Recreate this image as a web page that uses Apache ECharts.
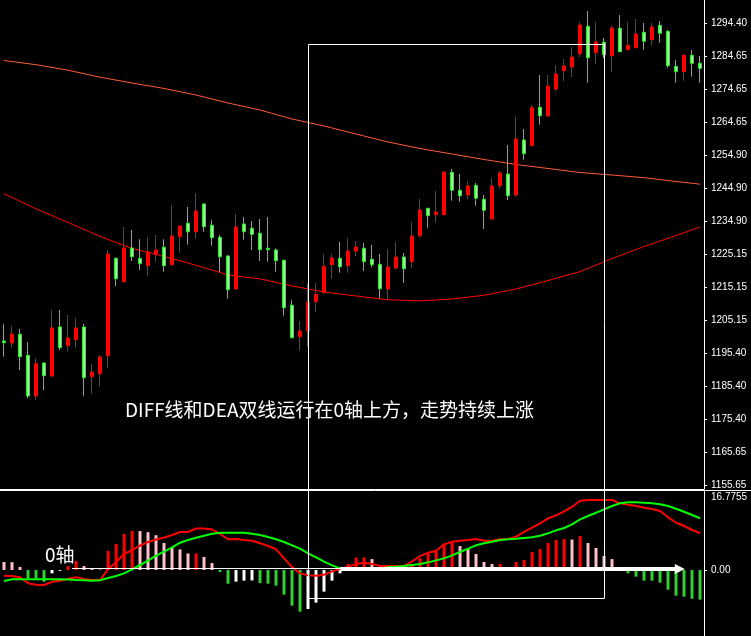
<!DOCTYPE html>
<html><head><meta charset="utf-8">
<script src="https://cdn.jsdelivr.net/npm/echarts@6/dist/echarts.min.js"></script>
<style>html,body{margin:0;padding:0;background:#000;}#c{width:751px;height:636px;}</style>
</head><body><div id="c"></div>
<script>
// ---- price data (one entry per bar) ----
const opens  = [1198.99,1198.39,1201.00,1194.69,1182.46,1192.38,1188.47,1203.20,1197.58,1199.38,1203.20,1188.26,1189.16,1194.57,1223.84,1216.81,1226.94,1223.84,1221.62,1224.92,1227.15,1221.92,1230.33,1234.36,1231.83,1240.16,1233.76,1230.15,1224.53,1214.62,1234.15,1232.86,1231.35,1226.85,1226.33,1223.24,1209.72,1200.28,1201.99,1210.80,1213.62,1221.92,1223.84,1221.62,1226.03,1226.85,1223.54,1222.04,1214.62,1220.93,1224.23,1222.82,1230.63,1238.87,1236.94,1236.94,1249.68,1244.28,1242.86,1245.78,1241.57,1235.65,1245.66,1249.17,1242.86,1259.39,1257.68,1269.22,1266.60,1274.72,1280.21,1281.33,1285.32,1293.56,1285.62,1288.75,1284.72,1292.96,1286.53,1287.13,1291.75,1289.53,1293.86,1292.05,1281.54,1279.91,1284.84,1282.44];
const highs  = [1204.10,1203.50,1202.60,1198.60,1193.79,1192.60,1208.30,1208.30,1206.80,1205.90,1204.10,1192.08,1194.78,1226.33,1224.10,1233.25,1232.34,1229.55,1230.24,1230.84,1229.55,1239.86,1233.60,1239.26,1243.46,1240.30,1235.35,1230.84,1224.83,1237.24,1236.25,1235.05,1235.65,1236.25,1226.85,1223.40,1211.31,1205.00,1216.33,1216.33,1225.13,1225.13,1228.74,1229.94,1229.04,1228.44,1227.84,1225.13,1226.64,1228.74,1225.43,1234.75,1241.66,1239.00,1244.06,1249.90,1250.68,1249.17,1247.07,1246.47,1242.86,1247.97,1250.07,1257.89,1266.39,1262.70,1269.91,1278.92,1278.92,1281.93,1283.73,1287.34,1294.85,1298.15,1294.85,1290.04,1293.65,1296.95,1294.85,1295.75,1294.55,1294.55,1295.15,1292.44,1283.43,1285.23,1286.43,1284.63];
const lows   = [1194.27,1196.98,1190.27,1181.77,1181.26,1184.26,1188.17,1196.28,1195.77,1196.98,1182.46,1183.15,1185.26,1190.97,1215.52,1216.51,1223.03,1220.32,1218.61,1222.82,1219.81,1221.62,1225.52,1227.93,1229.73,1231.83,1227.63,1219.72,1211.70,1214.41,1229.43,1226.33,1223.03,1222.82,1219.81,1206.59,1199.80,1196.07,1197.28,1207.79,1213.02,1217.62,1219.51,1219.51,1224.53,1220.02,1221.14,1211.70,1211.31,1220.42,1216.42,1220.93,1230.03,1233.04,1234.54,1236.80,1241.15,1240.85,1241.66,1239.65,1232.65,1235.44,1244.76,1241.36,1242.35,1253.47,1257.60,1263.99,1266.39,1274.02,1277.12,1278.32,1284.33,1276.61,1282.32,1283.94,1279.91,1285.80,1286.40,1287.00,1286.53,1287.73,1288.63,1281.12,1276.61,1277.21,1278.41,1276.61];
const closes = [1198.48,1201.09,1194.27,1182.46,1192.17,1188.56,1202.90,1196.98,1199.89,1202.90,1187.96,1189.67,1194.18,1225.13,1217.71,1226.94,1224.32,1222.22,1225.73,1226.33,1221.62,1230.54,1233.55,1231.83,1238.05,1233.34,1230.03,1224.32,1214.41,1233.25,1231.83,1231.05,1226.43,1226.43,1223.12,1209.00,1199.98,1201.99,1210.71,1213.02,1221.44,1223.93,1221.32,1226.03,1227.24,1222.82,1221.92,1214.71,1221.23,1224.23,1220.72,1230.54,1238.35,1236.64,1237.75,1249.77,1244.28,1242.65,1245.57,1241.87,1238.27,1245.57,1249.47,1242.65,1259.69,1255.27,1269.10,1266.69,1275.62,1279.22,1281.63,1284.33,1293.95,1284.12,1288.84,1285.02,1293.05,1285.92,1287.85,1291.24,1289.05,1293.35,1291.45,1281.72,1279.91,1284.84,1282.44,1280.94];

// moving averages read at every 4th bar: [barIndex, value]
const maSlow = [[0,1283.28],[4,1282.02],[8,1280.36],[12,1278.26],[16,1276.52],[20,1274.87],[24,1272.91],[28,1270.51],[32,1268.40],[36,1265.70],[40,1263.60],[44,1261.19],[48,1258.79],[52,1256.84],[56,1255.18],[60,1253.53],[64,1252.03],[68,1250.83],[72,1249.62],[76,1248.87],[80,1248.06],[84,1246.92],[87,1246.11]];
const maFast = [[0,1243.22],[4,1238.66],[8,1234.60],[12,1230.39],[16,1226.79],[20,1224.38],[24,1221.74],[28,1218.82],[32,1217.65],[36,1215.52],[40,1213.71],[44,1212.51],[48,1211.37],[52,1211.04],[56,1211.61],[60,1212.72],[64,1214.62],[68,1217.17],[72,1219.87],[76,1223.78],[80,1227.39],[84,1230.69],[87,1233.25]];

// MACD
const histogram = [1.84,1.8,0.7,-1.9,-1.9,-2.7,-0.77,-0.2,0.9,2.1,0.9,0.4,0.1,4.4,6.0,8.3,9.0,8.95,8.7,8.0,6.2,5.3,4.75,3.8,3.8,3.0,1.6,-0.46,-3.15,-2.68,-2.45,-2.4,-3.0,-3.15,-3.6,-5.67,-8.2,-9.58,-8.97,-7.5,-4.98,-2.45,-0.77,1.38,2.84,2.9,2.5,0.3,0.1,0.05,-0.23,1.2,2.7,3.8,4.4,6.1,6.7,5.5,5.06,3.7,1.84,1.38,1.38,0.2,1.84,2.3,4.14,4.8,6.2,6.9,7.1,7.0,7.8,6.2,5.06,3.2,2.5,-0.1,-0.77,-1.53,-2.45,-2.45,-2.91,-4.52,-5.9,-6.13,-6.6,-6.82];
const diff = [-1.31,-1.38,-1.68,-3.06,-3.38,-3.45,-2.69,-2.46,-2.0,-1.68,-2.07,-2.3,-2.3,0.2,1.84,3.68,4.6,5.63,6.44,7.01,7.47,8.05,8.74,8.74,9.54,9.54,9.31,8.28,7.06,7.13,6.9,6.74,6.14,5.52,4.76,2.69,0.62,-0.77,-1.23,-1.31,-1.07,-0.31,0.23,0.77,1.38,1.68,1.38,0.92,0.92,0.92,0.92,2.0,3.22,3.98,4.44,5.9,6.51,6.74,6.9,7.13,6.74,6.74,7.06,7.13,7.66,8.74,9.72,10.74,11.89,12.57,13.49,14.55,15.93,16.09,16.09,16.09,16.09,15.33,15.01,14.71,14.32,14.02,13.56,12.11,10.87,10.11,9.2,8.44];
const dea = [-2.53,-2.14,-2.14,-2.14,-2.14,-2.14,-2.14,-2.14,-2.2,-2.3,-2.37,-2.46,-2.37,-1.84,-1.38,-0.77,0.16,1.15,2.14,3.29,4.21,5.22,6.28,6.9,7.43,7.89,8.34,8.57,8.57,8.57,8.57,8.34,8.05,7.59,7.06,6.44,5.67,4.9,3.83,2.92,1.92,1.07,0.38,0,0,0,0.07,0.3,0.62,0.77,0.92,1.15,1.38,1.76,2.22,2.68,3.37,4.14,4.9,5.67,6.14,6.51,6.9,7.06,7.2,7.36,7.51,7.89,8.43,9.12,9.66,10.5,11.65,12.41,13.17,13.95,14.71,15.33,15.56,15.56,15.48,15.33,15.1,14.71,14.09,13.4,12.64,11.89];

// axis tick labels
const priceTickLabels = ['1294.40','1284.65','1274.65','1264.65','1254.90','1244.90','1234.90','1225.15','1215.15','1205.15','1195.40','1185.40','1175.40','1165.65','1155.65'];
const macdTickLabels = ['16.7755','0.00'];

// annotations
const noteText = 'DIFF线和DEA双线运行在0轴上方，走势持续上涨';
const zeroText = '0轴';
const boxRange = {fromBar: 38, toBar: 75, topPrice: 1288.24, bottomMacd: -6.5};
const arrowRange = {thinFrom: 8.5, thickFrom: 42, tip: 85.1, level: 0};

// ---- build ----
const categories = opens.map((_, i) => 'K' + (i + 1));
const candleData = opens.map((o, i) => [o, closes[i], lows[i], highs[i]]);
const priceTickValues = priceTickLabels.map(Number);
const macdTickValues = macdTickLabels.map(Number);
const RED = '#FF0000', PINK = '#FFC0CB', GREEN = '#32CD32', WHITE = '#FFFFFF';
const histData = histogram.map((v, i) => {
  const p = i > 0 ? histogram[i - 1] : null;
  let c;
  if (v >= 0) c = (p !== null && v >= p) ? RED : PINK;
  else c = (p === null || v <= p) ? GREEN : WHITE;
  return {value: v, itemStyle: {color: c}};
});
function pickLabel(values, labels, v) {
  let best = 0;
  for (let i = 1; i < values.length; i++) if (Math.abs(values[i] - v) < Math.abs(values[best] - v)) best = i;
  return labels[best];
}
const labelStyle = {color: '#FFFFFF', fontSize: 10, fontFamily: 'Liberation Sans, Arial, sans-serif', margin: 7};

const chart = echarts.init(document.getElementById('c'), null, {renderer: 'canvas'});
const option = {
  backgroundColor: '#000000',
  animation: false,
  grid: [
    {left: 0, right: 47, top: 0, height: 489},
    {left: 0, right: 47, top: 491, height: 145}
  ],
  xAxis: [
    {type: 'category', gridIndex: 0, data: categories, boundaryGap: true,
     axisLine: {show: true, lineStyle: {color: '#FFFFFF', width: 1}},
     axisTick: {show: false}, axisLabel: {show: false}, splitLine: {show: false}},
    {type: 'category', gridIndex: 1, data: categories, boundaryGap: true,
     axisLine: {show: false}, axisTick: {show: false}, axisLabel: {show: false}, splitLine: {show: false}}
  ],
  yAxis: [
    {type: 'value', gridIndex: 0, position: 'right', min: 1154.51, max: 1301.46,
     splitLine: {show: false},
     axisLine: {show: true, lineStyle: {color: '#FFFFFF', width: 1}},
     axisTick: {show: true, length: 3, lineStyle: {color: '#FFFFFF'}, customValues: priceTickValues},
     axisLabel: Object.assign({show: true, customValues: priceTickValues,
       formatter: v => pickLabel(priceTickValues, priceTickLabels, v)}, labelStyle)},
    {type: 'value', gridIndex: 1, position: 'right', min: -15.17, max: 18.16,
     splitLine: {show: false},
     axisLine: {show: true, lineStyle: {color: '#FFFFFF', width: 1}},
     axisTick: {show: true, length: 3, lineStyle: {color: '#FFFFFF'}, customValues: [0]},
     axisLabel: Object.assign({show: true, customValues: macdTickValues,
       formatter: v => pickLabel(macdTickValues, macdTickLabels, v)}, labelStyle)}
  ],
  series: [
    {name: 'MA slow', type: 'line', xAxisIndex: 0, yAxisIndex: 0, data: maSlow, symbol: 'none',
     lineStyle: {color: '#FF5A36', width: 1}, z: 2, silent: true},
    {name: 'MA fast', type: 'line', xAxisIndex: 0, yAxisIndex: 0, data: maFast, symbol: 'none',
     lineStyle: {color: '#FF0000', width: 1}, z: 2, silent: true},
    {name: 'K', type: 'candlestick', xAxisIndex: 0, yAxisIndex: 0, data: candleData, barWidth: 4, z: 3,
     itemStyle: {color: '#FF0000', color0: '#A4FFA4', borderColor: '#FF0000', borderColor0: '#22EE22', borderWidth: 1}},
    {name: 'MACD', type: 'bar', xAxisIndex: 1, yAxisIndex: 1, data: histData, barWidth: 3, z: 2},
    {name: 'DIFF', type: 'line', xAxisIndex: 1, yAxisIndex: 1, data: diff, symbol: 'none',
     lineStyle: {color: '#FF0000', width: 2}, z: 3},
    {name: 'DEA', type: 'line', xAxisIndex: 1, yAxisIndex: 1, data: dea, symbol: 'none',
     lineStyle: {color: '#00FF00', width: 2}, z: 3}
  ]
};
chart.setOption(option);

// annotations anchored to the data coordinates
const a0 = chart.convertToPixel({gridIndex: 0}, [0, 1200]);
const a1 = chart.convertToPixel({gridIndex: 0}, [1, 1200]);
const step = a1[0] - a0[0];
const X = t => a0[0] + step * t;
const crisp = v => Math.round(v) + 0.5;
const boxTop = chart.convertToPixel({gridIndex: 0}, [0, boxRange.topPrice])[1];
const boxBottom = chart.convertToPixel({gridIndex: 1}, [0, boxRange.bottomMacd])[1];
const zeroY = chart.convertToPixel({gridIndex: 1}, [0, arrowRange.level])[1];
const sepY = chart.convertToPixel({gridIndex: 1}, [0, 18.16])[1];
const tipX = X(arrowRange.tip);
const ay = zeroY - 1;

chart.setOption({
  graphic: [
    {type: 'line', z: 50, silent: true, shape: {x1: 0, y1: crisp(sepY - 1), x2: 751, y2: crisp(sepY - 1)},
     style: {stroke: '#FFFFFF', lineWidth: 1}},
    {type: 'rect', z: 60, silent: true,
     shape: {x: crisp(X(boxRange.fromBar)), y: crisp(boxTop),
             width: Math.round(X(boxRange.toBar)) - Math.round(X(boxRange.fromBar)),
             height: Math.round(boxBottom) - Math.round(boxTop)},
     style: {fill: 'none', stroke: '#FFFFFF', lineWidth: 1}},
    {type: 'line', z: 61, silent: true, shape: {x1: X(arrowRange.thinFrom), y1: ay - 0.5, x2: tipX - 8, y2: ay - 0.5},
     style: {stroke: '#FFFFFF', lineWidth: 1}},
    {type: 'line', z: 61, silent: true, shape: {x1: X(arrowRange.thickFrom), y1: ay, x2: tipX - 8, y2: ay},
     style: {stroke: '#FFFFFF', lineWidth: 4}},
    {type: 'polygon', z: 61, silent: true, shape: {points: [[tipX - 10, ay - 5], [tipX - 10, ay + 5], [tipX, ay]]},
     style: {fill: '#FFFFFF'}},
    {type: 'text', z: 62, silent: true, x: 125, y: 410,
     style: {text: noteText, fill: '#FFFFFF', fontSize: 19, fontFamily: '"Noto Sans CJK SC", sans-serif', verticalAlign: 'middle', align: 'left'}},
    {type: 'text', z: 62, silent: true, x: 45, y: 555,
     style: {text: zeroText, fill: '#FFFFFF', fontSize: 19, fontFamily: '"Noto Sans CJK SC", sans-serif', verticalAlign: 'middle', align: 'left'}}
  ]
});
</script></body></html>
